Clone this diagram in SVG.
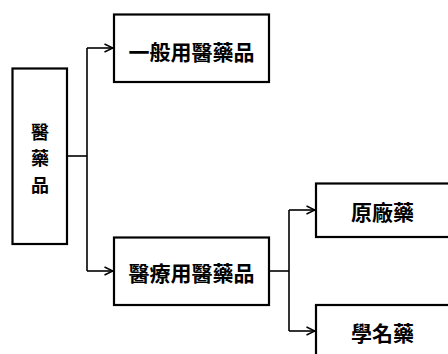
<svg xmlns="http://www.w3.org/2000/svg" width="448" height="354" viewBox="0 0 448 354">
<defs>
<style>
.box{fill:#fff;stroke:#000;stroke-width:2.2}
.lbl{font-family:"Noto Sans CJK TC","Noto Sans CJK SC",sans-serif;font-weight:bold;font-size:21px;fill:#000;text-anchor:middle;dominant-baseline:central}
.vlbl{font-size:18px}
.con{fill:none;stroke:#000;stroke-width:1.6}
</style>
<marker id="arr" viewBox="0 0 10 10" refX="9.5" refY="5" markerWidth="10" markerHeight="10" markerUnits="userSpaceOnUse" orient="auto">
<path d="M1,1 L9.5,5 L1,9" fill="none" stroke="#000" stroke-width="1.5"/>
</marker>
</defs>
<rect width="448" height="354" fill="#fff"/>
<g id="connectors">
<path class="con" d="M67,156 H87"/>
<path class="con" d="M87,48 V271"/>
<path class="con" d="M87,48 H113" marker-end="url(#arr)"/>
<path class="con" d="M87,271 H113" marker-end="url(#arr)"/>
<path class="con" d="M269,271 H289"/>
<path class="con" d="M289,210 V331"/>
<path class="con" d="M289,210 H315" marker-end="url(#arr)"/>
<path class="con" d="M289,331 H315" marker-end="url(#arr)"/>
</g>
<g id="root">
<rect class="box" x="12.5" y="68.5" width="54.5" height="175.5"/>
<text class="lbl vlbl" x="40" y="130.5">醫</text>
<text class="lbl vlbl" x="40" y="157">藥</text>
<text class="lbl vlbl" x="40" y="183.5">品</text>
</g>
<g id="general">
<rect class="box" x="114" y="14.5" width="155" height="67.5"/>
<text class="lbl" x="191.5" y="51">一般用醫藥品</text>
</g>
<g id="medical">
<rect class="box" x="114" y="237.5" width="155" height="67.5"/>
<text class="lbl" x="191.5" y="272">醫療用醫藥品</text>
</g>
<g id="original">
<rect class="box" x="316" y="183.5" width="140" height="53.5"/>
<text class="lbl" x="382.5" y="211">原廠藥</text>
</g>
<g id="generic">
<rect class="box" x="316" y="305" width="140" height="60"/>
<text class="lbl" x="382.5" y="332">學名藥</text>
</g>
</svg>
